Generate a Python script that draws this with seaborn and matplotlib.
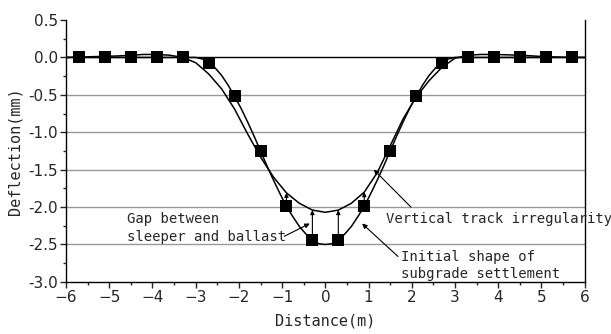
import matplotlib
matplotlib.use("Agg")
import numpy as np
import pandas as pd
import matplotlib.pyplot as plt
import seaborn as sns

# sleeper positions (m) and settlement at each sleeper (mm)
sleeper_x = [-5.7, -5.1, -4.5, -3.9, -3.3, -2.7, -2.1, -1.5, -0.9, -0.3,
             0.3, 0.9, 1.5, 2.1, 2.7, 3.3, 3.9, 4.5, 5.1, 5.7]
sleeper_y = [0.0, 0.0, 0.0, 0.0, 0.0, -0.07, -0.52, -1.25, -1.99, -2.44,
             -2.44, -1.99, -1.25, -0.52, -0.07, 0.0, 0.0, 0.0, 0.0, 0.0]

# initial shape of subgrade settlement
settle_x = [-6.0, -3.0, -2.85, -2.7, -2.55, -2.4, -2.25, -2.1, -1.95, -1.8, -1.65,
            -1.5, -1.35, -1.2, -1.05, -0.9, -0.75, -0.6, -0.45, -0.3, -0.15,
            0.0, 0.15, 0.3, 0.45, 0.6, 0.75, 0.9, 1.05, 1.2, 1.35, 1.5,
            1.65, 1.8, 1.95, 2.1, 2.25, 2.4, 2.55, 2.7, 2.85, 3.0, 6.0]
settle_y = [0.0, 0.0, -0.02, -0.06, -0.14, -0.24, -0.37, -0.52, -0.68, -0.86, -1.05,
            -1.25, -1.45, -1.64, -1.82, -1.99, -2.13, -2.26, -2.36, -2.44, -2.49,
            -2.50, -2.49, -2.44, -2.36, -2.26, -2.13, -1.99, -1.82, -1.64, -1.45, -1.25,
            -1.05, -0.86, -0.68, -0.52, -0.37, -0.24, -0.14, -0.06, -0.02, 0.0, 0.0]

# vertical track irregularity
track_x = [-6.0, -5.4, -4.8, -4.2, -3.9, -3.6, -3.3, -3.0, -2.7, -2.4, -2.1,
           -1.8, -1.5, -1.2, -0.9, -0.6, -0.3, 0.0, 0.3, 0.6, 0.9, 1.2,
           1.5, 1.8, 2.1, 2.4, 2.7, 3.0, 3.3, 3.6, 3.9, 4.5, 5.1, 5.7, 6.0]
track_y = [0.0, 0.01, 0.02, 0.04, 0.04, 0.03, 0.0, -0.07, -0.22, -0.42, -0.69,
           -1.02, -1.33, -1.60, -1.81, -1.95, -2.04, -2.07, -2.04, -1.95, -1.80, -1.54,
           -1.18, -0.82, -0.53, -0.31, -0.13, -0.01, 0.03, 0.04, 0.04, 0.03, 0.01, 0.0, 0.0]

gap_x = [-0.9, -0.3, 0.3, 0.9]

sns.set_style("ticks")
plt.rcParams["font.family"] = ["DejaVu Sans"]

fig, ax = plt.subplots(figsize=(6.11, 3.34), dpi=100)
fig.subplots_adjust(left=0.108, right=0.957, bottom=0.156, top=0.94)

for yv in [-0.5, -1.0, -1.5, -2.0, -2.5]:
    ax.axhline(yv, color="#999999", lw=1.0, zorder=0)
ax.axhline(0.0, color="black", lw=1.0, zorder=1)

sns.lineplot(x=settle_x, y=settle_y, color="black", lw=1.1, ax=ax, sort=False)
sns.lineplot(x=track_x, y=track_y, color="black", lw=1.1, ax=ax, sort=False)
sns.scatterplot(x=sleeper_x, y=sleeper_y, marker="s", s=75, color="black",
                edgecolor="black", linewidth=0, ax=ax, zorder=5)

# gap arrows from sleeper up to the track line
sl = dict(zip(sleeper_x, sleeper_y))
tr = dict(zip(track_x, track_y))
for gx in gap_x:
    ax.annotate("", xy=(gx, tr.get(gx, np.interp(gx, track_x, track_y))),
                xytext=(gx, sl[gx]),
                arrowprops=dict(arrowstyle="-|>", color="black", lw=0.8,
                                mutation_scale=6, shrinkA=0, shrinkB=0))

mono = "DejaVu Sans Mono"
arrow = dict(arrowstyle="-|>", color="black", lw=0.8, mutation_scale=7,
             shrinkA=0, shrinkB=0)
ax.text(-4.59, -2.28, "Gap between\nsleeper and ballast", family=mono, fontsize=10,
        va="center", ha="left", linespacing=1.3)
ax.annotate("", xy=(-0.36, -2.22), xytext=(-0.95, -2.39), arrowprops=arrow)
ax.text(1.41, -2.16, "Vertical track irregularity", family=mono, fontsize=10,
        va="center", ha="left", clip_on=False)
ax.annotate("", xy=(1.12, -1.5), xytext=(1.98, -2.0), arrowprops=arrow)
ax.text(1.76, -2.78, "Initial shape of\nsubgrade settlement", family=mono, fontsize=10,
        va="center", ha="left", linespacing=1.3)
ax.annotate("", xy=(0.85, -2.22), xytext=(1.68, -2.66), arrowprops=arrow)

ax.set_xlim(-6, 6)
ax.set_ylim(-3.0, 0.5)
ax.set_xticks(range(-6, 7))
ax.set_yticks([0.5, 0.0, -0.5, -1.0, -1.5, -2.0, -2.5, -3.0])
ax.set_yticklabels(["0.5", "0.0", "-0.5", "-1.0", "-1.5", "-2.0", "-2.5", "-3.0"])
ax.set_xticks(np.arange(-5.5, 6, 1.0), minor=True)
ax.set_yticks(np.arange(-2.75, 0.5, 0.5), minor=True)
ax.tick_params(which="major", direction="out", length=4, width=1, labelsize=11, pad=2)
ax.tick_params(which="minor", direction="out", length=2.5, width=1)
ax.spines["top"].set_visible(False)
for s in ["left", "bottom", "right"]:
    ax.spines[s].set_linewidth(1.0)
    ax.spines[s].set_color("black")

ax.set_xlabel("Distance(m)", family=mono, fontsize=11, labelpad=6)
ax.set_ylabel("Deflection(mm)", family=mono, fontsize=11, labelpad=4)

fig.savefig("out.png", dpi=100)
